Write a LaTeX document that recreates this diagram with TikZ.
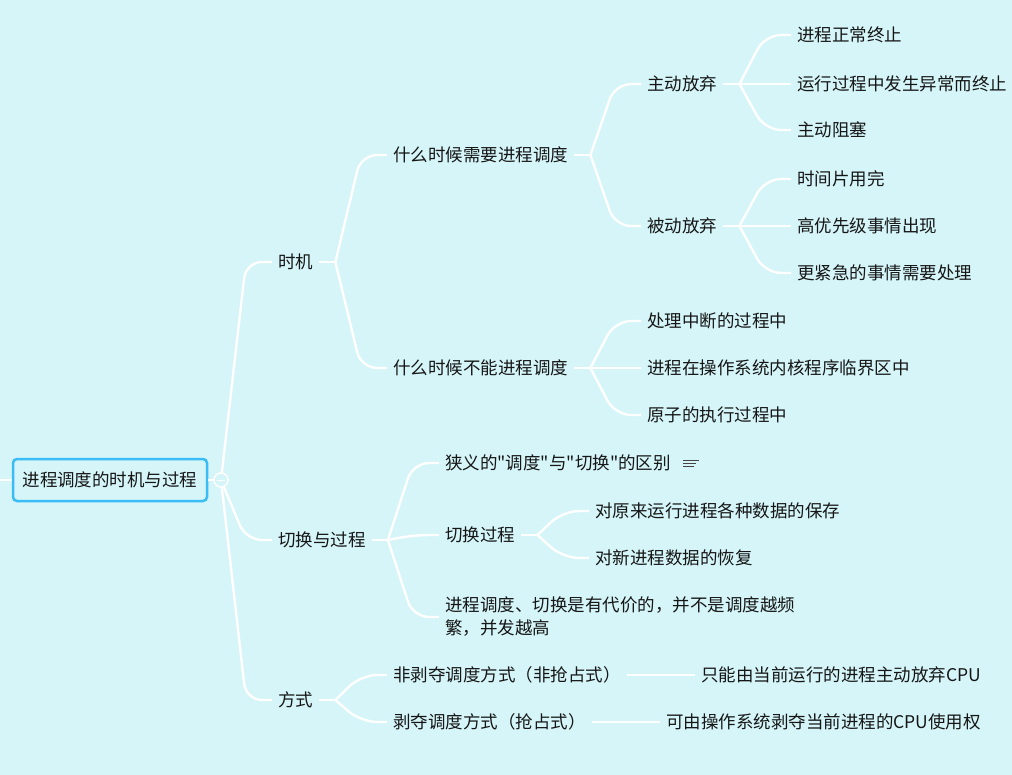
\documentclass[tikz,border=0pt]{standalone}
\usepackage{fontspec}
\newfontfamily\cjk{Noto Sans CJK SC}
\usetikzlibrary{positioning}

\definecolor{bgcyan}{RGB}{213,245,248}
\definecolor{rootblue}{RGB}{58,188,246}
\definecolor{inktext}{RGB}{22,22,22}

\tikzset{
	topic/.style={anchor=west,inner sep=0pt,text=inktext,
		font=\cjk\fontsize{17.5}{23}\selectfont},
	link/.style={draw=white,line width=2.4pt,rounded corners=16pt},
	notemark/.style={draw=inktext!80,line width=1pt}
}

\begin{document}
\begin{tikzpicture}[x=1pt,y=-1pt]
		\fill[bgcyan] (0,0) rectangle (1012,775);
		\useasboundingbox (0,0) rectangle (1012,775);

		% root
		\node[draw=rootblue,line width=2.5pt,rounded corners=4pt,minimum width=194pt,
			minimum height=42pt,inner sep=0pt,text=inktext,
			font=\cjk\fontsize{17.5}{23}\selectfont] (root) at (110,480) {进程调度的时机与过程};
		\coordinate (rf) at (221,480);
		\coordinate (edge) at (0,480);

		% main branches
		\node[topic] (shiji) at (278,262) {时机};
		\node[topic] (qiehuan) at (278,540) {切换与过程};
		\node[topic] (fangshi) at (278,700) {方式};

		% 时机
		\node[topic] (xuyao) at (393,155) {什么时候需要进程调度};
		\node[topic] (buneng) at (393,368) {什么时候不能进程调度};
		\node[topic] (zhudong) at (647,84) {主动放弃};
		\node[topic] (beidong) at (647,226) {被动放弃};
		\foreach \n/\y/\t in {zd1/35/进程正常终止,zd2/84/运行过程中发生异常而终止,zd3/130/主动阻塞}
			\node[topic] (\n) at (797,\y) {\t};
		\foreach \n/\y/\t in {bd1/179/时间片用完,bd2/226/高优先级事情出现,bd3/273/更紧急的事情需要处理}
			\node[topic] (\n) at (797,\y) {\t};
		\foreach \n/\y/\t in {bn1/321/处理中断的过程中,bn2/368/进程在操作系统内核程序临界区中,bn3/415/原子的执行过程中}
			\node[topic] (\n) at (647,\y) {\t};

		% 切换与过程
		\node[topic] (xiayi) at (445,463) {狭义的"调度"与"切换"的区别};
		\node[topic] (guocheng) at (445,535) {切换过程};
		\node[topic,align=left] (daijia) at (445,617)
			{进程调度、切换是有代价的，并不是调度越频\\繁，并发越高};
		\node[topic] (gc1) at (595,511) {对原来运行进程各种数据的保存};
		\node[topic] (gc2) at (595,558) {对新进程数据的恢复};

		% 方式
		\node[topic] (fei) at (393,675) {非剥夺调度方式（非抢占式）};
		\node[topic] (bo) at (393,722) {剥夺调度方式（抢占式）};
		\node[topic,right=80pt of fei] (feitxt) {只能由当前运行的进程主动放弃CPU};
		\node[topic,right=80pt of bo] (botxt) {可由操作系统剥夺当前进程的CPU使用权};

		% forks
		\foreach \p in {shiji,xuyao,buneng,zhudong,beidong,qiehuan,guocheng,fangshi}{
			\coordinate (\p f) at ([xshift=22pt]\p.east);
			\draw[link] ([xshift=6pt]\p.east) -- (\p f);
		}

		% links
		\draw[link] (root.west) -- (edge);
		\draw[link] (root.east) -- (rf);
		\foreach \c in {shiji,qiehuan,fangshi}
			\draw[link] (rf) -- ([xshift=-32pt]\c.west) -- ([xshift=-6pt]\c.west);
		\foreach \p/\c in {shiji/xuyao,shiji/buneng,xuyao/zhudong,xuyao/beidong,
				zhudong/zd1,zhudong/zd2,zhudong/zd3,beidong/bd1,beidong/bd2,beidong/bd3,
				buneng/bn1,buneng/bn2,buneng/bn3,qiehuan/xiayi,qiehuan/guocheng,
				qiehuan/daijia,guocheng/gc1,guocheng/gc2,fangshi/fei,fangshi/bo}
			\draw[link] (\p f) -- ([xshift=-32pt]\c.west) -- ([xshift=-6pt]\c.west);
		\draw[link] ([xshift=6pt]fei.east) -- ([xshift=-6pt]feitxt.west);
		\draw[link] ([xshift=6pt]bo.east) -- ([xshift=-6pt]botxt.west);

		% fold mark
		\node[circle,draw=white,line width=1.5pt,fill=bgcyan,minimum size=14pt,inner sep=0pt] (fold) at (rf) {};
		\draw[white,line width=1pt] ([xshift=-4pt]fold.center) -- ([xshift=4pt]fold.center);

		% note icon
		\path (xiayi.east) ++(12,-3) coordinate (nt);
		\draw[notemark] (nt) -- ++(16,0);
		\draw[notemark] (nt) ++(0,3) -- ++(13,0);
		\draw[notemark] (nt) ++(0,6) -- ++(11,0);
	\end{tikzpicture}
\end{document}
